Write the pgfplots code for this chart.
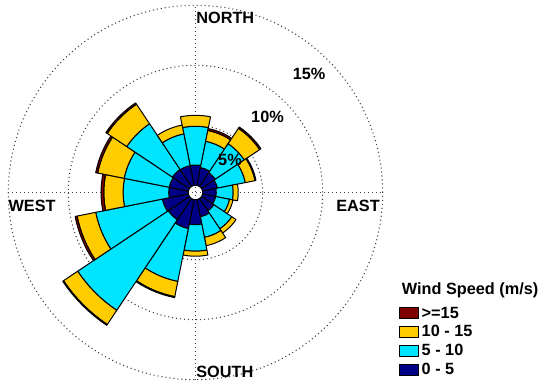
\documentclass[border=0pt]{standalone}
\usepackage{pgfplots}
\pgfplotsset{compat=1.18}
\usepackage{pgfplotstable}
\usepackage{fontspec}
\setmainfont{Liberation Sans}
\definecolor{wsA}{RGB}{0,0,135}
\definecolor{wsB}{RGB}{0,229,255}
\definecolor{wsC}{RGB}{255,204,0}
\definecolor{wsD}{RGB}{128,0,0}

% frequency (%) per direction and speed class: 0-5, 5-10, 10-15, >=15 m/s
\pgfplotstableread{
dir ang  s1   s2   s3   s4
N   90    1.69 3.23 0.91 0.00
NNE 67.5  1.52 2.23 0.92 0.16
NE  45    1.38 2.91 1.54 0.13
ENE 22.5  1.26 2.37 0.83 0.08
E   0     1.13 1.41 0.42 0.00
ESE -22.5 1.11 1.18 0.29 0.00
SE  -45   1.24 1.80 0.42 0.00
SSE -67.5 1.46 1.75 0.71 0.00
S   -90   2.08 2.21 0.42 0.00
SSW -112.5 2.46 4.50 1.29 0.08
SW  -135  2.13 9.08 1.42 0.08
WSW -157.5 2.21 5.67 1.58 0.17
W   180   1.63 3.80 1.61 0.23
WNW 157.5 1.63 3.83 2.25 0.17
NW  135   1.71 4.58 1.96 0.13
NNW 112.5 1.68 2.70 0.75 0.00
}\windtab

\newcommand\sector[4]{%
  \gdef\pts{}%
  \foreach \k in {0,...,8}{%
    \pgfmathsetmacro\ang{#1-11.25+2.8125*\k}%
    \xdef\pts{\pts (\ang,#3)}%
  }%
  \foreach \k in {8,...,0}{%
    \pgfmathsetmacro\ang{#1-11.25+2.8125*\k}%
    \xdef\pts{\pts (\ang,#2)}%
  }%
  \pgfmathsetmacro\ang{#1-11.25}%
  \xdef\pts{\pts (\ang,#3)}%
  \edef\tmp{\noexpand\addplot[forget plot, fill=#4, draw=black, line width=0.75pt, line join=round, data cs=polar] coordinates {\pts};}%
  \tmp
}

\begin{document}
\begin{tikzpicture}[font=\bfseries\fontsize{12.2}{14}\selectfont]
\begin{axis}[
  x=9pt, y=9pt,
  xmin=-16.29, xmax=29.29, ymin=-15.875, ymax=16.04,
  hide axis, clip=false,
  legend cell align=left,
  legend style={at={(axis cs:16.99,-9.35)}, anchor=north west, draw=none, fill=none,
    inner sep=0pt, outer sep=0pt, row sep=1.2pt,
    nodes={inner sep=1pt, text height=9pt, text depth=2pt},
    font=\bfseries\fontsize{12.2}{14}\selectfont,
    /tikz/every odd column/.style={column sep=1pt}},
]
\path (rel axis cs:0,0) rectangle (rel axis cs:1,1);
% grid
\draw[black!75, line width=0.8pt, dash pattern=on 0.8pt off 2.2pt] (axis cs:0,0) circle [radius=50.4pt];
\draw[black!75, line width=0.8pt, dash pattern=on 0.8pt off 2.2pt] (axis cs:0,0) circle [radius=95.4pt];
\draw[black!75, line width=0.8pt, dash pattern=on 0.8pt off 2.2pt] (axis cs:0,0) circle [radius=140.4pt];
\draw[black!75, line width=0.8pt, dash pattern=on 0.8pt off 2.2pt] (axis cs:-15.6,0) -- (axis cs:15.6,0);
\draw[black!75, line width=0.8pt, dash pattern=on 0.8pt off 2.2pt] (axis cs:0,-15.6) -- (axis cs:0,15.6);

\pgfplotsforeachungrouped \i in {0,...,15}{%
  \pgfplotstablegetelem{\i}{ang}\of\windtab \let\wAng\pgfplotsretval
  \pgfplotstablegetelem{\i}{s1}\of\windtab \let\vA\pgfplotsretval
  \pgfplotstablegetelem{\i}{s2}\of\windtab \let\vB\pgfplotsretval
  \pgfplotstablegetelem{\i}{s3}\of\windtab \let\vC\pgfplotsretval
  \pgfplotstablegetelem{\i}{s4}\of\windtab \let\vD\pgfplotsretval
  \pgfmathsetmacro\rA{0.6}%
  \pgfmathsetmacro\rB{\rA+\vA}%
  \pgfmathsetmacro\rC{\rB+\vB}%
  \pgfmathsetmacro\rD{\rC+\vC}%
  \pgfmathsetmacro\rE{\rD+\vD}%
  \sector{\wAng}{\rA}{\rB}{wsA}%
  \sector{\wAng}{\rB}{\rC}{wsB}%
  \sector{\wAng}{\rC}{\rD}{wsC}%
  \ifdim\vD pt>0pt \sector{\wAng}{\rD}{\rE}{wsD}\fi
}

\addlegendimage{legend image code/.code={\draw[fill=wsD,draw=black,line width=0.75pt] (0pt,-4.1pt) rectangle (14pt,4.1pt);}}
\addlegendentry{>=15}
\addlegendimage{legend image code/.code={\draw[fill=wsC,draw=black,line width=0.75pt] (0pt,-4.1pt) rectangle (14pt,4.1pt);}}
\addlegendentry{10 - 15}
\addlegendimage{legend image code/.code={\draw[fill=wsB,draw=black,line width=0.75pt] (0pt,-4.1pt) rectangle (14pt,4.1pt);}}
\addlegendentry{5 - 10}
\addlegendimage{legend image code/.code={\draw[fill=wsA,draw=black,line width=0.75pt] (0pt,-4.1pt) rectangle (14pt,4.1pt);}}
\addlegendentry{0 - 5}

\node[anchor=west, inner sep=0pt] at (axis cs:0.05,14.58) {NORTH};
\node[anchor=west, inner sep=0pt] at (axis cs:0.05,-14.93) {SOUTH};
\node[anchor=east, inner sep=0pt] at (axis cs:15.375,-1.125) {EAST};
\node[anchor=west, inner sep=0pt] at (axis cs:-15.6,-1.125) {WEST};
\node[inner sep=0pt] at (axis cs:9.47,9.89) {15\%};
\node[inner sep=0pt] at (axis cs:6.0,6.28) {10\%};
\node[inner sep=0pt] at (axis cs:2.875,2.73) {5\%};
\node[anchor=west, inner sep=0pt] at (axis cs:17.18,-8.18) {Wind Speed (m/s)};
\end{axis}
\end{tikzpicture}
\end{document}
